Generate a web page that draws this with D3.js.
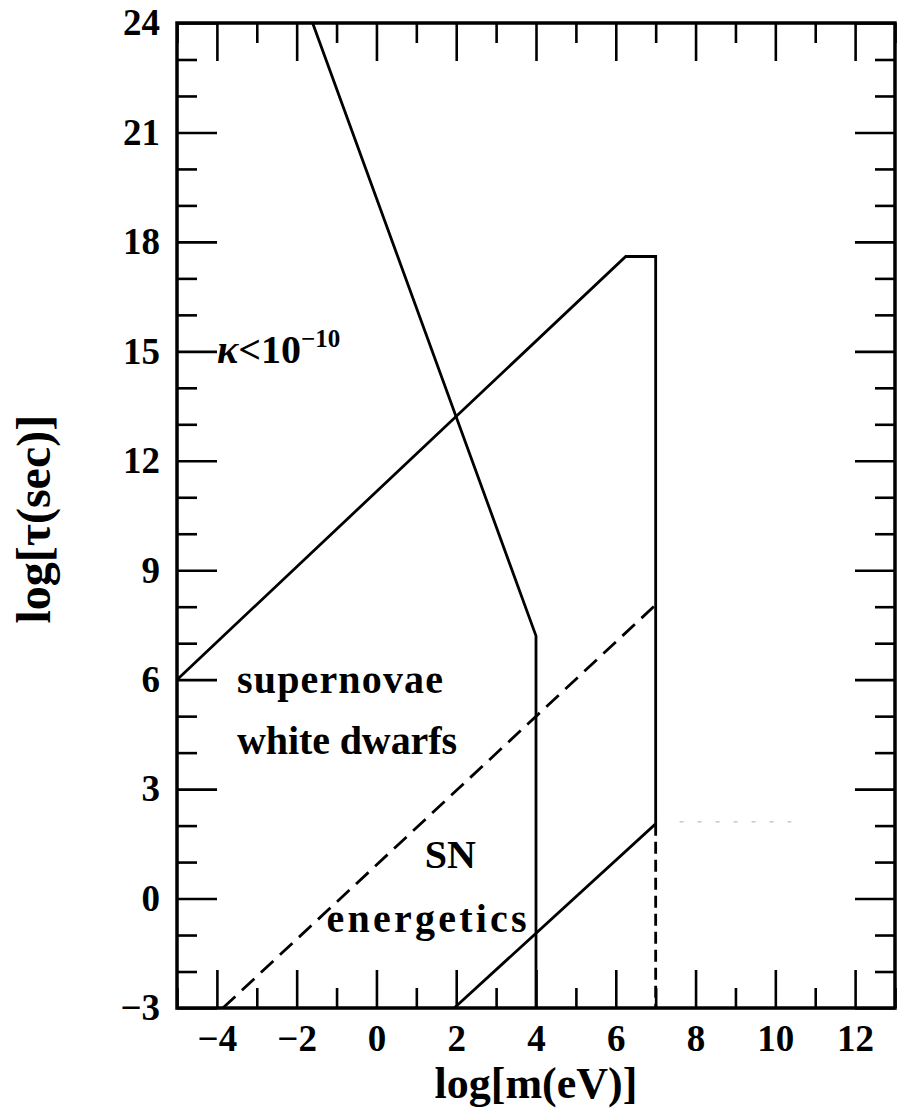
<!DOCTYPE html>
<html>
<head>
<meta charset="utf-8">
<script src="https://cdn.jsdelivr.net/npm/d3@7"></script>
<style>
  body { margin: 0; background: #fff; }
  text { font-family: "Liberation Serif", serif; font-weight: bold; fill: #000; }
</style>
</head>
<body>
<div id="chart"></div>
<script>
// tick values
var massMajor = [-4, -2, 0, 2, 4, 6, 8, 10, 12];
var massMinor = [-5, -3, -1, 1, 3, 5, 7, 9, 11, 13];
var tauMajor = [-3, 0, 3, 6, 9, 12, 15, 18, 21, 24];
var tauMinor = [-2, -1, 1, 2, 4, 5, 7, 8, 10, 11, 13, 14, 16, 17, 19, 20, 22, 23];

// bound curves [log m, log tau]
var steepBound = [[-1.6, 24], [4, 7.2], [4, -3]];
var upperBound = [[-5, 6], [6.25, 17.6], [7, 17.6], [7, 2.05], [1.95, -3]];
var dashedBound = [[-3.85, -3], [7, 8.05]];
var dashedDrop = [[7, 2.05], [7, -3]];
var faintDots = [[7.6, 2.1], [10.4, 2.1]];

var svgWidth = 901, svgHeight = 1108;
var margin = {top: 23, right: 6, bottom: 100, left: 177};
var width = svgWidth - margin.left - margin.right;
var height = svgHeight - margin.top - margin.bottom;

var svg = d3.select("#chart").append("svg")
    .attr("width", svgWidth)
    .attr("height", svgHeight);

var g = svg.append("g")
    .attr("transform", `translate(${margin.left},${margin.top})`);

var xscale = d3.scaleLinear().domain([-5, 13]).range([0, width]);
var yscale = d3.scaleLinear().domain([-3, 24]).range([height, 0]);

function minus(d) { return d < 0 ? "\u2212" + Math.abs(d) : d; }

function styleAxis(sel) {
    sel.select(".domain").remove();
    sel.selectAll(".tick line").attr("stroke", "#000").attr("stroke-width", 2.6);
    sel.selectAll("text").attr("font-size", 37).attr("font-family", null);
}

// bottom
g.append("g").attr("transform", `translate(0,${height})`)
    .call(d3.axisBottom(xscale).tickValues(massMinor).tickSize(-20).tickFormat(""))
    .call(styleAxis);
g.append("g").attr("transform", `translate(0,${height})`)
    .call(d3.axisBottom(xscale).tickValues(massMajor).tickSize(-38).tickPadding(17).tickFormat(minus))
    .call(styleAxis);
// top
g.append("g")
    .call(d3.axisTop(xscale).tickValues(massMinor).tickSize(-20).tickFormat(""))
    .call(styleAxis);
g.append("g")
    .call(d3.axisTop(xscale).tickValues(massMajor).tickSize(-38).tickFormat(""))
    .call(styleAxis);
// left
g.append("g")
    .call(d3.axisLeft(yscale).tickValues(tauMinor).tickSize(-20).tickFormat(""))
    .call(styleAxis);
g.append("g")
    .call(d3.axisLeft(yscale).tickValues(tauMajor).tickSize(-40).tickPadding(17).tickFormat(minus))
    .call(styleAxis);
// right
g.append("g").attr("transform", `translate(${width},0)`)
    .call(d3.axisRight(yscale).tickValues(tauMinor).tickSize(-20).tickFormat(""))
    .call(styleAxis);
g.append("g").attr("transform", `translate(${width},0)`)
    .call(d3.axisRight(yscale).tickValues(tauMajor).tickSize(-40).tickFormat(""))
    .call(styleAxis);

// frame
g.append("rect")
    .attr("width", width).attr("height", height)
    .attr("fill", "none").attr("stroke", "#000").attr("stroke-width", 3.5);

var line = d3.line().x(d => xscale(d[0])).y(d => yscale(d[1]));

g.append("path").datum(steepBound).attr("d", line)
    .attr("fill", "none").attr("stroke", "#000").attr("stroke-width", 2.8);
g.append("path").datum(upperBound).attr("d", line)
    .attr("fill", "none").attr("stroke", "#000").attr("stroke-width", 2.8);
g.append("path").datum(dashedBound).attr("d", line)
    .attr("fill", "none").attr("stroke", "#000").attr("stroke-width", 2.8)
    .attr("stroke-dasharray", "17,9");
g.append("path").datum(dashedDrop).attr("d", line)
    .attr("fill", "none").attr("stroke", "#000").attr("stroke-width", 2.8)
    .attr("stroke-dasharray", "12,6");
g.append("path").datum(faintDots).attr("d", line)
    .attr("fill", "none").attr("stroke", "#bbb").attr("stroke-width", 1.2)
    .attr("stroke-dasharray", "4,14");

// annotations
var kap = g.append("text")
    .attr("x", xscale(-5) + 40).attr("y", yscale(15) + 12)
    .attr("font-size", 40);
kap.append("tspan").attr("font-style", "italic").text("\u03ba");
kap.append("tspan").text("<10");
kap.append("tspan").attr("font-size", 25).attr("dy", -16).text("\u221210");

g.append("text").attr("x", xscale(-5) + 60).attr("y", yscale(6) + 13)
    .attr("font-size", 40).attr("textLength", 206).attr("lengthAdjust", "spacing")
    .text("supernovae");
g.append("text").attr("x", xscale(-5) + 60).attr("y", yscale(6) + 74)
    .attr("font-size", 40).attr("textLength", 220).attr("lengthAdjust", "spacing")
    .text("white dwarfs");
g.append("text").attr("x", xscale(1.85)).attr("y", yscale(-0.1) - 34)
    .attr("text-anchor", "middle").attr("font-size", 40).text("SN");
g.append("text").attr("x", xscale(-1.4) + 6).attr("y", yscale(-0.1) + 30)
    .attr("font-size", 40).attr("textLength", 200).attr("lengthAdjust", "spacing")
    .text("energetics");

// axis titles
g.append("text")
    .attr("x", xscale(4)).attr("y", height + 90)
    .attr("text-anchor", "middle").attr("font-size", 44)
    .text("log[m(eV)]");
g.append("text")
    .attr("transform", `translate(${-margin.left + 50},${yscale(10.4)}) rotate(-90)`)
    .attr("text-anchor", "middle").attr("font-size", 48)
    .text("log[\u03c4(sec)]");
</script>
</body>
</html>
